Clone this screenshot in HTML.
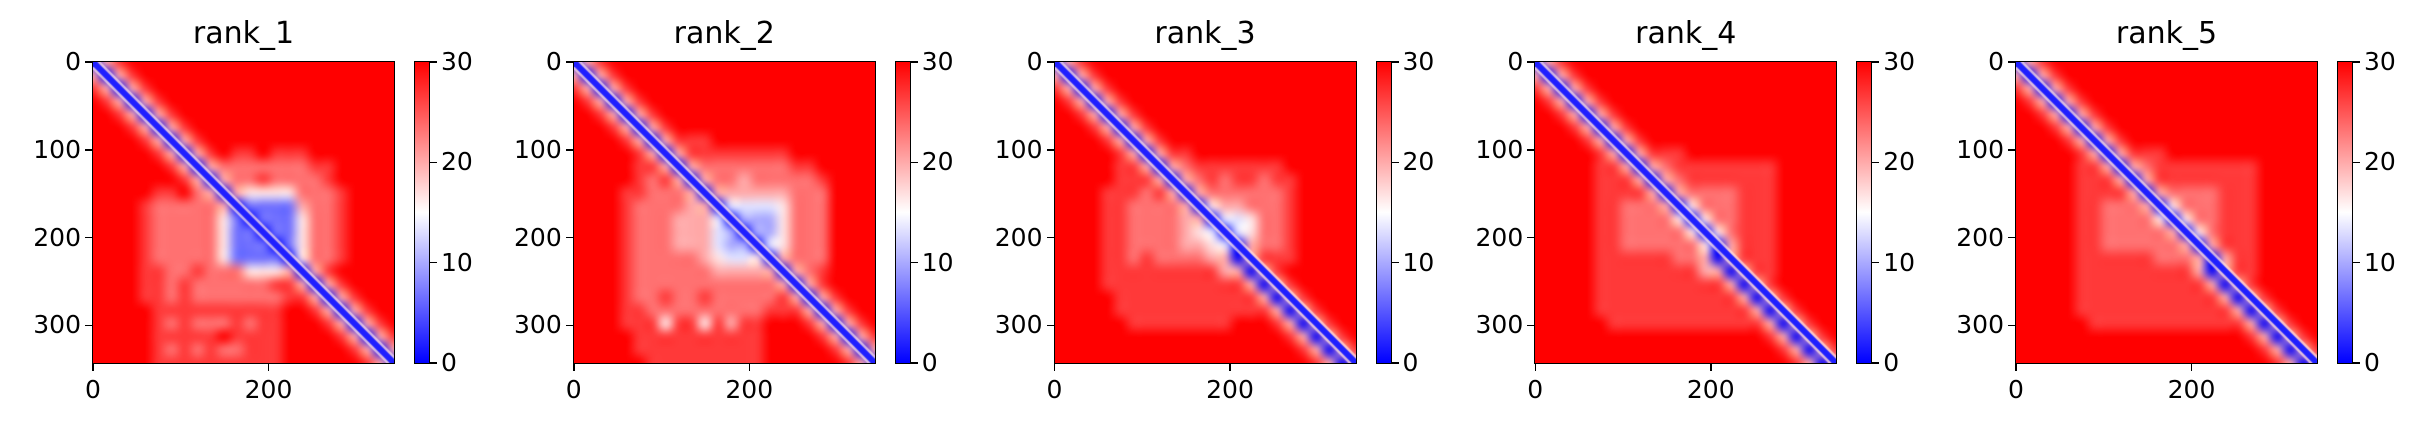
<!DOCTYPE html>
<html><head><meta charset="utf-8"><style>
body{margin:0;background:#fff;}
#root{position:relative;width:2428px;height:432px;overflow:hidden;background:#fff;font-family:"DejaVu Sans","Liberation Sans",sans-serif;}
</style></head><body>
<div id="root"></div>
<script>
const titles=["rank_1","rank_2","rank_3","rank_4","rank_5"];
const axisTicks=[0,100,200,300];
const xTicks=[0,200];
const cbTicks=[0,10,20,30];
const nRes=343;
const vmax=30;
const rank1=[
"068999999999999999999999","606899999999999999999999","860689999999999999999999","986068999999999999999999",
"998606899999999999999999","999860689999999999999999","999986068999999999999999","999998606898898889999999",
"999999860677777778899999","999999986067787777899999","999998897606555577789999","999987777760222267789999",
"999987777752022257789999","999987777752202257789999","999987777752220257789999","999987777752222057789999",
"999988778777555606899999","999988787777778860689999","999988787777777886068999","999998888888888998606899",
"999998787778788999860689","999998888898888999986068","999998787877888999998606","999998888888888999999860"];
const rank2=[
"068999999999999999999999","606899999999999999999999","860689999999999999999999","986068999999999999999999",
"998606899999999999999999","999860689999999999999999","999986068889999999999999","999998606888888889999999",
"999998860677777778899999","999998786067767777789999","999988777606666667779999","999987777660444457779999",
"999987776664033357779999","999987776664303357779999","999987776664330457779999","999987777765445067779999",
"999987777776666606789999","999987777777777760689999","999987787787777786068999","999988777777777888606899",
"999988858858688999860689","999998888888888999986068","999998888888888999998606","999999888888888999999860"];
const rank3=[
"068999999999999999999999","606899999999999999999999","860689999999999999999999","986068999999999999999999",
"998606899999999999999999","999860689999999999999999","999986068999999999999999","999998606889999999999999",
"999998860678888888999999","999998886067878878899999","999988878606777777899999","999988777760566777899999",
"999988777766044577899999","999988777765404577899999","999988777766540677899999","999988787777660688899999",
"999988888888866068999999","999988888888888606899999","999998888888888860689999","999998888888888886068999",
"999999888888889998606899","999999999999999999860689","999999999999999999986068","999999999999999999998606"];
const rank4=[
"068999999999999999999999","606899999999999999999999","860689999999999999999999","986068999999999999999999",
"998606899999999999999999","999860689999999999999999","999986068999999999999999","999998606888999999999999",
"999998860678888888899999","999998886067888888899999","999998888606777788899999","999998877760577788899999",
"999998877775057788899999","999998877777505788899999","999998877777750688899999","999998888887760688899999",
"999998888888866068899999","999998888888888606899999","999998888888888860689999","999998888888888886068999",
"999999888888888888606899","999999999999999999860689","999999999999999999986068","999999999999999999998606"];
const rank5=[
"068999999999999999999999","606899999999999999999999","860689999999999999999999","986068999999999999999999",
"998606899999999999999999","999860689999999999999999","999986068999999999999999","999998606888999999999999",
"999998860678888888899999","999998886068888888899999","999998888606777788899999","999998877760577788899999",
"999998877775057788899999","999998877777605788899999","999998877777760688899999","999998888887776068899999",
"999998888888886068899999","999998888888888606899999","999998888888888860689999","999998888888888886068999",
"999999888888888888606899","999999999999999999860689","999999999999999999986068","999999999999999999998606"];
const matrices=[rank1,rank2,rank3,rank4,rank5];

const root=document.getElementById('root');
const AX0=93, STEP=480.75, TOP=62, SIZE=301;
function bwr(t){t=Math.max(0,Math.min(1,t));
  if(t<0.5){const s=t/0.5;return [Math.round(255*s),Math.round(255*s),255];}
  const s=(t-0.5)/0.5;return [255,Math.round(255*(1-s)),Math.round(255*(1-s))];}
function sx(v,left){return left+v/nRes*SIZE;}
function sy(v){return TOP+v/nRes*SIZE;}
function cy(v){return TOP+SIZE-v/vmax*SIZE;}
function mk(tag,css,parent){const e=document.createElement(tag);e.style.cssText=css;(parent||root).appendChild(e);return e;}

titles.forEach((t,k)=>{
  const left=AX0+k*STEP;
  const ttl=mk('div',`position:absolute;left:${left}px;width:${SIZE}px;top:16px;text-align:center;font-size:30px;color:#000;`);
  ttl.textContent=t;
  
  
  const m=matrices[k]; const n=m.length;
  const small=document.createElement('canvas');small.width=n;small.height=n;
  const sctx=small.getContext('2d');const img=sctx.createImageData(n,n);
  for(let i=0;i<n;i++)for(let j=0;j<n;j++){
    const d=parseInt(m[i].charAt(j)||'9');const c=bwr(d/9);const o=(i*n+j)*4;
    img.data[o]=c[0];img.data[o+1]=c[1];img.data[o+2]=c[2];img.data[o+3]=255;}
  sctx.putImageData(img,0,0);
  const cv=document.createElement('canvas');cv.width=SIZE;cv.height=SIZE;
  cv.style.cssText=`position:absolute;left:${left}px;top:${TOP}px;`;
  
  
  root.appendChild(cv);
  const ctx=cv.getContext('2d');ctx.imageSmoothingEnabled=true;ctx.imageSmoothingQuality='high';
  ctx.drawImage(small,-SIZE/n/2,-SIZE/n/2,SIZE+SIZE/n,SIZE+SIZE/n);
  ctx.strokeStyle='rgba(255,230,230,0.7)';ctx.lineWidth=11;
  ctx.beginPath();ctx.moveTo(0,0);ctx.lineTo(SIZE,SIZE);ctx.stroke();
  ctx.strokeStyle='#1f1fff';ctx.lineWidth=6;
  ctx.beginPath();ctx.moveTo(0,0);ctx.lineTo(SIZE,SIZE);ctx.stroke();
  const fr=mk('div',`position:absolute;left:${left-1}px;top:${TOP-1}px;width:${SIZE}px;height:${SIZE}px;border:1.5px solid #000;`);
  
  
  axisTicks.forEach(v=>{
    const y=sy(v);
    mk('div',`position:absolute;left:${left-8}px;top:${y-0.75}px;width:8px;height:1.5px;background:#000;`);
    const l=mk('div',`position:absolute;right:${2428-(left-12)}px;top:${y-15}px;font-size:25px;line-height:30px;`);
    l.textContent=v;
    
    
  });
  xTicks.forEach(v=>{
    const x=sx(v,left);
    mk('div',`position:absolute;left:${x-0.75}px;top:${TOP+SIZE}px;width:1.5px;height:8px;background:#000;`);
    const l=mk('div',`position:absolute;left:${x-50}px;width:100px;text-align:center;top:${TOP+SIZE+12}px;font-size:25px;line-height:30px;`);
    l.textContent=v;
    
    
  });
  const cbl=left+SIZE+20;
  const cb=mk('div',`position:absolute;left:${cbl}px;top:${TOP-1}px;width:14px;height:${SIZE}px;border:1.5px solid #000;background:linear-gradient(to bottom,#f00,#fff 50%,#00f);`);
  
  
  cbTicks.forEach(v=>{
    const y=cy(v);
    mk('div',`position:absolute;left:${cbl+16}px;top:${y-0.75}px;width:7px;height:1.5px;background:#000;`);
    const l=mk('div',`position:absolute;left:${cbl+27}px;top:${y-15}px;font-size:25px;line-height:30px;`);
    l.textContent=v;
    
    
  });
});
</script>
</body></html>
